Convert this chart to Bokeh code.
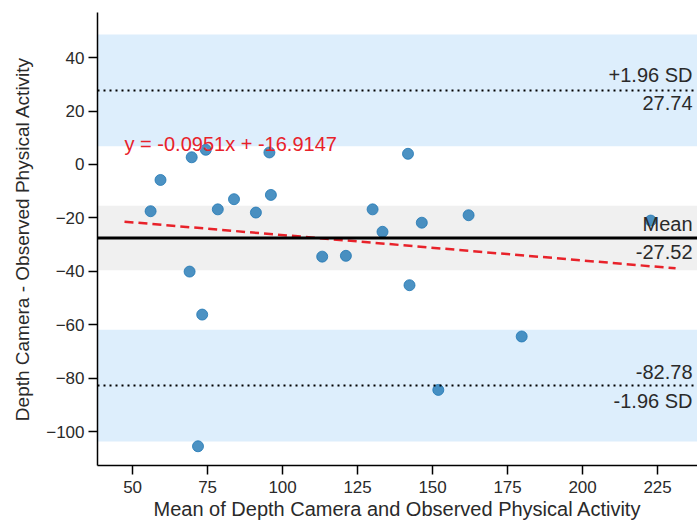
import math
from bokeh.plotting import figure
from bokeh.models import BoxAnnotation, Span, Label, FixedTicker, ColumnDataSource
from bokeh.embed import file_html
from bokeh.resources import INLINE

# ---- data ----
mean_x = [56.0, 59.3, 69.7, 74.4, 78.4, 83.8, 91.1, 96.1, 95.6, 69.0, 73.2, 71.8,
          141.8, 130.0, 146.4, 162.0, 133.3, 113.2, 121.1, 142.3, 179.7, 151.9, 222.7]
diff_y = [-17.5, -5.8, 2.7, 5.5, -16.8, -13.0, -18.0, -11.4, 4.5, -40.1, -56.2, -105.5,
          4.0, -16.8, -21.8, -19.0, -25.2, -34.5, -34.2, -45.2, -64.4, -84.4, -21.0]

mean_diff = -27.52
upper_loa = 27.74
lower_loa = -82.78
band_centers = [upper_loa, mean_diff, lower_loa]
band_half = [20.9, 12.1, 20.9]
band_colors = ["#ddeefc", "#f0f0f0", "#ddeefc"]

slope = -0.0951
intercept = -16.9147
reg_x = [47.3, 231.0]
reg_y = [slope * v + intercept for v in reg_x]

x_ticks = [50, 75, 100, 125, 150, 175, 200, 225]
y_ticks = [-100, -80, -60, -40, -20, 0, 20, 40]

FONT = "Liberation Sans"
TXT = "#2a2a2a"

p = figure(width=697, height=526, output_backend="svg", toolbar_location=None,
           x_range=(38.3, 238.3), y_range=(-112.7, 56.9),
           min_border_left=97, min_border_right=0, min_border_top=12,
           min_border_bottom=61)
p.outline_line_color = None
p.xgrid.visible = False
p.ygrid.visible = False
p.background_fill_color = "white"

for c, h, col in zip(band_centers, band_half, band_colors):
    p.add_layout(BoxAnnotation(bottom=c - h, top=c + h, fill_color=col,
                               fill_alpha=1.0, line_color=None, level="underlay"))

p.add_layout(Span(location=mean_diff, dimension="width", line_color="black",
                  line_width=2.8))
for loc in (upper_loa, lower_loa):
    p.add_layout(Span(location=loc, dimension="width", line_color="black",
                      line_width=2, line_dash="2 4"))

p.line(reg_x, reg_y, line_color="#e8222a", line_width=2.5, line_dash="9 5")

src = ColumnDataSource(dict(x=mean_x, y=diff_y))
p.scatter("x", "y", source=src, size=11, fill_color="#1f77b4", fill_alpha=0.8,
          line_color="#1f77b4", line_alpha=0.8)

def rlabel(text, y, off):
    p.add_layout(Label(x=238.3, y=y, text=text, x_offset=-5, y_offset=off,
                       text_align="right", text_baseline="middle",
                       text_font=FONT, text_font_size="20px", text_color=TXT))

rlabel("+1.96 SD", upper_loa, 15)
rlabel(f"{upper_loa:.2f}", upper_loa, -13)
rlabel("Mean", mean_diff, 14)
rlabel(f"{mean_diff:.2f}", mean_diff, -14)
rlabel(f"{lower_loa:.2f}", lower_loa, 14)
rlabel("-1.96 SD", lower_loa, -15)

p.add_layout(Label(x=reg_x[0], y=7.8, text=f"y = {slope}x + {intercept}",
                   text_align="left", text_baseline="middle", text_font=FONT,
                   text_font_size="20px", text_color="#e8222a"))

for ax in (p.xaxis[0], p.yaxis[0]):
    ax.axis_line_color = "black"
    ax.axis_line_width = 1.5
    ax.major_tick_line_color = "black"
    ax.major_tick_line_width = 1.5
    ax.major_tick_out = 9
    ax.major_tick_in = 0
    ax.minor_tick_line_color = None
    ax.major_label_text_font = FONT
    ax.major_label_text_font_size = "17px"
    ax.major_label_text_color = TXT
    ax.axis_label_text_font = FONT
    ax.axis_label_text_font_size = "20px"
    ax.axis_label_text_font_style = "normal"
    ax.axis_label_text_color = TXT

p.xaxis.ticker = FixedTicker(ticks=x_ticks)
p.yaxis.ticker = FixedTicker(ticks=y_ticks)
p.xaxis.major_label_standoff = 6
p.yaxis.major_label_standoff = 4
p.xaxis.axis_label = "Mean of Depth Camera and Observed Physical Activity"
p.xaxis.axis_label_standoff = 2
p.yaxis.axis_label = "Depth Camera - Observed Physical Activity"
p.yaxis.axis_label_text_font_size = "19px"
p.yaxis.axis_label_standoff = 10

open("out.html", "w").write(file_html(p, INLINE))
